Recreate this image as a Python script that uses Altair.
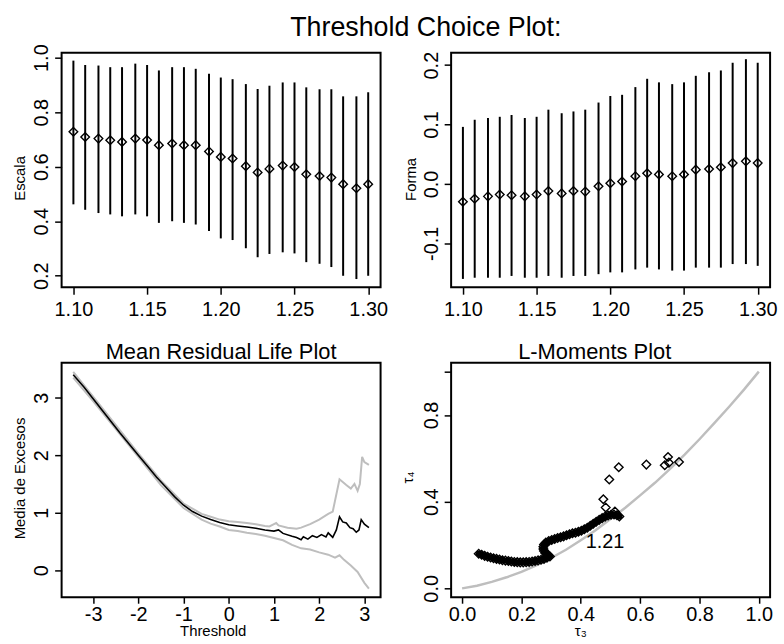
import altair as alt
import pandas as pd

FONT = "Liberation Sans"
GREY = "#bebebe"

# ---------------- Top panels: threshold choice ----------------
thresholds = [1.100, 1.108, 1.117, 1.125, 1.133, 1.142, 1.150, 1.158, 1.167, 1.175,
              1.183, 1.192, 1.200, 1.208, 1.217, 1.225, 1.233, 1.242, 1.250, 1.258,
              1.267, 1.275, 1.283, 1.292, 1.300]
scale_est = [0.728, 0.709, 0.703, 0.697, 0.691, 0.703, 0.698, 0.679, 0.685, 0.679,
             0.679, 0.656, 0.636, 0.630, 0.602, 0.579, 0.592, 0.604, 0.599, 0.572,
             0.566, 0.560, 0.536, 0.521, 0.536]
scale_hi = [0.989, 0.973, 0.971, 0.965, 0.965, 0.978, 0.973, 0.953, 0.965, 0.965,
            0.959, 0.941, 0.927, 0.921, 0.903, 0.885, 0.897, 0.909, 0.909, 0.891,
            0.884, 0.884, 0.858, 0.858, 0.873]
scale_lo = [0.462, 0.442, 0.430, 0.425, 0.418, 0.425, 0.418, 0.394, 0.400, 0.394,
            0.388, 0.364, 0.337, 0.331, 0.301, 0.268, 0.280, 0.286, 0.282, 0.250,
            0.244, 0.232, 0.200, 0.188, 0.200]
shape_est = [-0.030, -0.025, -0.021, -0.018, -0.019, -0.021, -0.018, -0.012, -0.016, -0.012,
             -0.013, -0.004, 0.001, 0.004, 0.013, 0.018, 0.016, 0.013, 0.016, 0.024,
             0.025, 0.028, 0.035, 0.038, 0.035]
shape_hi = [0.096, 0.108, 0.111, 0.113, 0.116, 0.111, 0.113, 0.125, 0.119, 0.122,
            0.125, 0.137, 0.148, 0.150, 0.163, 0.177, 0.171, 0.168, 0.171, 0.182,
            0.188, 0.191, 0.204, 0.210, 0.204]
shape_lo = [-0.160, -0.158, -0.158, -0.158, -0.155, -0.158, -0.158, -0.155, -0.158, -0.155,
            -0.155, -0.152, -0.149, -0.149, -0.144, -0.141, -0.144, -0.146, -0.146, -0.141,
            -0.141, -0.141, -0.135, -0.135, -0.138]
thr_ticks = [1.10, 1.15, 1.20, 1.25, 1.30]
scale_ticks = [0.2, 0.4, 0.6, 0.8, 1.0]
shape_ticks = [-0.1, 0.0, 0.1, 0.2]

# ---------------- Mean residual life ----------------
mrl_x = [-3.44, -3.2, -3.0, -2.8, -2.6, -2.4, -2.2, -2.0, -1.8, -1.6, -1.4, -1.2, -1.0,
         -0.8, -0.6, -0.4, -0.2, 0.0, 0.2, 0.4, 0.6, 0.8, 1.0, 1.1, 1.2, 1.4, 1.5, 1.6,
         1.65, 1.75, 1.85, 1.95, 2.05, 2.15, 2.2, 2.3, 2.38, 2.45, 2.52, 2.6, 2.68, 2.75,
         2.82, 2.88, 2.93, 3.0, 3.1]
mrl_y = [3.40, 3.18, 2.98, 2.78, 2.58, 2.38, 2.19, 2.00, 1.81, 1.62, 1.45, 1.28, 1.13,
         1.02, 0.94, 0.88, 0.83, 0.79, 0.77, 0.75, 0.73, 0.70, 0.68, 0.70, 0.64, 0.59, 0.57, 0.53,
         0.58, 0.54, 0.60, 0.57, 0.62, 0.58, 0.65, 0.57, 0.70, 0.93, 0.84, 0.82, 0.74, 0.72,
         0.66, 0.70, 0.88, 0.80, 0.74]
mrl_up_x = [-3.44, -3.0, -2.0, -1.5, -1.0, -0.6, -0.4, -0.2, 0.0, 0.2, 0.4, 0.6, 0.8, 0.9,
            1.0, 1.05, 1.1, 1.3, 1.5, 1.6, 1.8, 2.0, 2.2, 2.3, 2.45, 2.6, 2.7, 2.78, 2.85,
            2.9, 2.95, 3.0, 3.1]
mrl_up_y = [3.45, 3.02, 2.03, 1.56, 1.16, 0.98, 0.93, 0.88, 0.85, 0.84, 0.82, 0.80, 0.77, 0.76,
            0.80, 0.82, 0.78, 0.74, 0.72, 0.74, 0.80, 0.88, 0.98, 1.02, 1.58, 1.48, 1.42, 1.50, 1.38,
            1.50, 1.97, 1.88, 1.83]
mrl_lo_x = [-3.44, -3.0, -2.0, -1.5, -1.0, -0.6, -0.4, -0.2, 0.0, 0.2, 0.4, 0.6, 0.8, 1.0,
            1.2, 1.4, 1.6, 1.8, 2.0, 2.2, 2.35, 2.45, 2.55, 2.7, 2.85, 3.0, 3.1]
mrl_lo_y = [3.35, 2.94, 1.97, 1.48, 1.08, 0.88, 0.81, 0.76, 0.70, 0.68, 0.65, 0.63, 0.60, 0.56,
            0.52, 0.44, 0.38, 0.36, 0.31, 0.27, 0.22, 0.26, 0.18, 0.08, -0.03, -0.22, -0.32]
mrl_xticks = [-3, -2, -1, 0, 1, 2, 3]
mrl_yticks = [0, 1, 2, 3]

# ---------------- L-moments ----------------
lm_tau3 = [0.056, 0.066, 0.076, 0.086, 0.096, 0.106, 0.116, 0.126, 0.136, 0.146, 0.156, 0.166,
           0.176, 0.186, 0.196, 0.206, 0.216, 0.226, 0.236, 0.246, 0.256, 0.266, 0.276, 0.286,
           0.296, 0.290, 0.280, 0.276, 0.274, 0.274, 0.276, 0.282, 0.292, 0.302, 0.312, 0.322,
           0.332, 0.342, 0.352, 0.362, 0.372, 0.382, 0.392, 0.402, 0.412, 0.422, 0.432, 0.442,
           0.452, 0.462, 0.472, 0.482, 0.492, 0.502, 0.512, 0.522, 0.530]
lm_tau4 = [0.160, 0.155, 0.150, 0.146, 0.142, 0.139, 0.136, 0.133, 0.130, 0.128, 0.126, 0.124,
           0.122, 0.121, 0.120, 0.120, 0.121, 0.122, 0.124, 0.126, 0.129, 0.132, 0.136, 0.141,
           0.147, 0.155, 0.163, 0.172, 0.182, 0.192, 0.202, 0.211, 0.218, 0.223, 0.228, 0.232,
           0.236, 0.240, 0.245, 0.250, 0.254, 0.257, 0.261, 0.266, 0.273, 0.280, 0.289, 0.298,
           0.307, 0.316, 0.324, 0.331, 0.336, 0.340, 0.341, 0.337, 0.332]
out_tau3 = [0.476, 0.484, 0.496, 0.528, 0.621, 0.683, 0.694, 0.697, 0.731, 0.515]
out_tau4 = [0.411, 0.373, 0.502, 0.559, 0.571, 0.568, 0.606, 0.580, 0.583, 0.355]
gpd_tau3 = [0.0, 0.05, 0.1, 0.15, 0.2, 0.25, 0.3, 0.35, 0.4, 0.45, 0.5, 0.55, 0.6, 0.65,
            0.7, 0.75, 0.8, 0.85, 0.9, 0.95, 1.0]
gpd_tau4 = [0.0, 0.012, 0.030, 0.051, 0.076, 0.106, 0.140, 0.178, 0.222, 0.268, 0.320, 0.372,
            0.429, 0.487, 0.550, 0.617, 0.688, 0.762, 0.838, 0.917, 1.0]
label_x = [0.4815]
label_y = [0.216]
label_text = ["1.21"]
lm_ticks = [0.0, 0.2, 0.4, 0.6, 0.8, 1.0]
lm_yticks = [0.0, 0.4, 0.8, 1.0]

W, H = 321, 236

def neg_fmt(fmt):
    return (f"datum.value < 0 ? '-' + format(-datum.value, '{fmt}') : format(datum.value, '{fmt}')")

# ---- top-left
df_scale = pd.DataFrame({"u": thresholds, "est": scale_est, "lo": scale_lo, "hi": scale_hi})
xs_top = alt.Scale(domain=[1.092, 1.3084], nice=False, zero=False)
tl_base = alt.Chart(df_scale)
tl_rule = tl_base.mark_rule(color="black", strokeWidth=2).encode(
    x=alt.X("u:Q", scale=xs_top, title=None,
            axis=alt.Axis(values=thr_ticks, labelExpr="format(datum.value, '.2f')")),
    y=alt.Y("lo:Q", scale=alt.Scale(domain=[0.158, 1.018], nice=False, zero=False),
            axis=alt.Axis(values=scale_ticks, labelExpr="format(datum.value, '.1f')",
                          title="Escala", titleX=-34, titleY=126)),
    y2="hi:Q")
tl_pt = tl_base.mark_point(shape="diamond", size=75, filled=False, color="black",
                           strokeWidth=1.4, opacity=1).encode(x="u:Q", y="est:Q")
tl = alt.layer(tl_rule, tl_pt).properties(width=W, height=H)

# ---- top-right
df_shape = pd.DataFrame({"u": thresholds, "est": shape_est, "lo": shape_lo, "hi": shape_hi})
tr_base = alt.Chart(df_shape)
tr_rule = tr_base.mark_rule(color="black", strokeWidth=2).encode(
    x=alt.X("u:Q", scale=xs_top, title=None,
            axis=alt.Axis(values=thr_ticks, labelExpr="format(datum.value, '.2f')")),
    y=alt.Y("lo:Q", scale=alt.Scale(domain=[-0.174, 0.2209], nice=False, zero=False),
            axis=alt.Axis(values=shape_ticks, labelExpr=neg_fmt('.1f'),
                          title="Forma", titleX=-33, titleY=127)),
    y2="hi:Q")
tr_pt = tr_base.mark_point(shape="diamond", size=75, filled=False, color="black",
                           strokeWidth=1.4, opacity=1).encode(x="u:Q", y="est:Q")
tr = alt.layer(tr_rule, tr_pt).properties(width=W, height=H)

# ---- bottom-left
df_mrl = pd.DataFrame({"x": mrl_x, "y": mrl_y})
df_up = pd.DataFrame({"x": mrl_up_x, "y": mrl_up_y})
df_lo = pd.DataFrame({"x": mrl_lo_x, "y": mrl_lo_y})
xs_mrl = alt.Scale(domain=[-3.697, 3.358], nice=False, zero=False)
ys_mrl = alt.Scale(domain=[-0.47, 3.607], nice=False, zero=False)
bl_up = alt.Chart(df_up).mark_line(color=GREY, strokeWidth=2).encode(
    x=alt.X("x:Q", scale=xs_mrl,
            axis=alt.Axis(values=mrl_xticks, labelExpr="toString(datum.value)",
                          tickSize=6, labelPadding=1,
                          title="Threshold", titleX=152, titleY=27, titleBaseline="top")),
    y=alt.Y("y:Q", scale=ys_mrl,
            axis=alt.Axis(values=mrl_yticks, labelExpr="toString(datum.value)",
                          title="Media de Excesos", titleX=-34, titleY=116)),
    order=alt.Order("x:Q"))
bl_lo = alt.Chart(df_lo).mark_line(color=GREY, strokeWidth=2).encode(
    x="x:Q", y="y:Q", order=alt.Order("x:Q"))
bl_main = alt.Chart(df_mrl).mark_line(color="black", strokeWidth=1.6).encode(
    x="x:Q", y="y:Q", order=alt.Order("x:Q"))
bl = alt.layer(bl_up, bl_lo, bl_main).properties(
    width=W, height=H,
    title=alt.TitleParams("Mean Residual Life Plot", fontSize=22, font=FONT,
                          fontWeight="normal", baseline="alphabetic", offset=-18))

# ---- bottom-right
df_lm = pd.DataFrame({"t3": lm_tau3, "t4": lm_tau4, "i": list(range(len(lm_tau3)))})
df_out = pd.DataFrame({"t3": out_tau3, "t4": out_tau4})
df_gpd = pd.DataFrame({"t3": gpd_tau3, "t4": gpd_tau4})
df_lab = pd.DataFrame({"t3": label_x, "t4": label_y, "txt": label_text})
xs_lm = alt.Scale(domain=[-0.037, 1.038], nice=False, zero=False)
ys_lm = alt.Scale(domain=[-0.041, 1.041], nice=False, zero=False)
br_curve = alt.Chart(df_gpd).mark_line(color=GREY, strokeWidth=2.5).encode(
    x=alt.X("t3:Q", scale=xs_lm,
            axis=alt.Axis(values=lm_ticks, labelExpr="format(datum.value, '.1f')",
                          tickSize=6, labelPadding=1,
                          title="τ₃", titleX=130, titleY=27, titleBaseline="top")),
    y=alt.Y("t4:Q", scale=ys_lm,
            axis=alt.Axis(values=lm_yticks,
                          labelExpr="datum.value == 1 ? '' : format(datum.value, '.1f')",
                          title="τ₄", titleX=-36, titleY=115)))
br_band = alt.Chart(df_lm).mark_line(color="black", strokeWidth=6, strokeJoin="round",
                                     strokeCap="round").encode(
    x="t3:Q", y="t4:Q", order=alt.Order("i:Q"))
br_pts = alt.Chart(df_lm).mark_point(shape="diamond", size=75, filled=False, color="black",
                                     strokeWidth=1.4, opacity=1).encode(x="t3:Q", y="t4:Q")
br_out = alt.Chart(df_out).mark_point(shape="diamond", size=75, filled=False, color="black",
                                      strokeWidth=1.4, opacity=1).encode(x="t3:Q", y="t4:Q")
br_txt = alt.Chart(df_lab).mark_text(font=FONT, fontSize=20, color="black",
                                     align="center", baseline="middle").encode(
    x="t3:Q", y="t4:Q", text="txt:N")
br = alt.layer(br_curve, br_band, br_pts, br_out, br_txt).properties(
    width=W, height=H,
    title=alt.TitleParams("L-Moments Plot", fontSize=22, font=FONT, fontWeight="normal",
                          baseline="alphabetic", offset=-18, dx=-16))

chart = alt.concat(tl, tr, bl, br, columns=2, spacing={"row": 76, "column": 71},
                   bounds="flush").properties(
    title=alt.TitleParams("Threshold Choice Plot:", fontSize=27, font=FONT,
                          fontWeight="normal", anchor="middle",
                          baseline="alphabetic", offset=-20, dx=31),
    padding={"left": 12, "top": 12, "right": 5, "bottom": 3},
    background="white",
).configure_view(
    stroke="black", strokeWidth=2
).configure_axis(
    domain=False, grid=False, tickColor="black", tickSize=7, tickWidth=1.5,
    labelFont=FONT, labelFontSize=20, labelColor="black", labelFlush=False,
    labelOverlap=False, titleFont=FONT, titleFontSize=15, titleFontWeight="normal",
    titleColor="black"
).configure_axisX(
    labelPadding=5
).configure_axisY(
    labelAngle=-90, labelAlign="center", labelBaseline="bottom", labelPadding=3,
    titleAngle=-90, titleBaseline="bottom", titleAlign="center"
)

chart.save("out.html", embed_options={"renderer": "svg", "actions": False})
